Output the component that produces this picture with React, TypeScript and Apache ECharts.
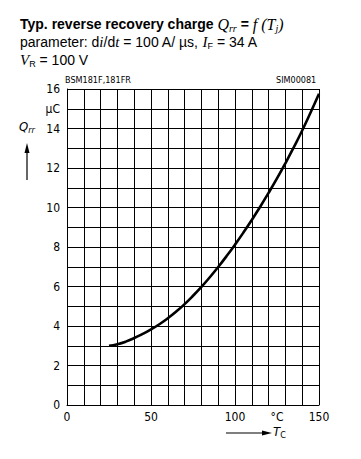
import React, { useEffect, useRef } from "react";
import * as echarts from "echarts";

const tempC = [25, 30, 35, 40, 45, 50, 55, 60, 65, 70, 75, 80, 85, 90, 95, 100, 105, 110, 115, 120, 125, 130, 135, 140, 145, 150];
const qrr = [3.0, 3.08, 3.21, 3.39, 3.6, 3.83, 4.09, 4.39, 4.73, 5.11, 5.53, 5.98, 6.47, 6.99, 7.54, 8.12, 8.73, 9.37, 10.04, 10.74, 11.47, 12.24, 13.05, 13.9, 14.81, 15.76];
const xLabels: Record<number, string> = { 0: "0", 50: "50", 100: "100", 150: "150" };
const yLabels: Record<number, string> = { 0: "0", 2: "2", 4: "4", 6: "6", 8: "8", 10: "10", 12: "12", 14: "14", 15: "µC", 16: "16" };
const xUnit = "°C";

const COND = '"DejaVu Sans Condensed", "Liberation Sans Narrow", "DejaVu Sans", sans-serif';
const SANS = '"Liberation Sans", Arial, sans-serif';
const SERIF = '"Liberation Serif", "Times New Roman", serif';

export default function App() {
  const ref = useRef<HTMLDivElement>(null);
  useEffect(() => {
    if (!ref.current) return;
    const chart = echarts.init(ref.current, undefined, { renderer: "svg" });
    const data = tempC.map((t, i) => [t, qrr[i]]);
    chart.setOption({
      animation: false,
      backgroundColor: "#fff",
      grid: { left: 67, right: 42, top: 89, bottom: 54 },
      xAxis: {
        type: "value",
        min: 0,
        max: 150,
        interval: 10,
        axisLine: { show: true, lineStyle: { color: "#000", width: 1 } },
        axisTick: { show: false },
        splitLine: { show: true, lineStyle: { color: "#000", width: 1 } },
        axisLabel: {
          color: "#000",
          fontFamily: COND,
          fontSize: 12,
          margin: 6,
          formatter: (v: number) => xLabels[v] ?? "",
          showMinLabel: true,
          showMaxLabel: true,
        },
      },
      yAxis: {
        type: "value",
        min: 0,
        max: 16,
        interval: 1,
        axisLine: { show: true, lineStyle: { color: "#000", width: 1 } },
        axisTick: { show: false },
        splitLine: { show: true, lineStyle: { color: "#000", width: 1 } },
        axisLabel: {
          color: "#000",
          fontFamily: COND,
          fontSize: 12,
          margin: 7,
          formatter: (v: number) => yLabels[v] ?? "",
        },
      },
      series: [
        {
          type: "line",
          data,
          smooth: true,
          symbol: "none",
          lineStyle: { color: "#000", width: 2.6 },
        },
      ],
      graphic: [
        {
          type: "text",
          left: 20,
          top: 16,
          style: {
            text: "{b|Typ. reverse recovery charge }{i|Q}{sub|rr}{b| = }{i|f (T}{sub|j}{i|)}",
            rich: {
              b: { fontFamily: SANS, fontWeight: "bold", fontSize: 14, fill: "#000", lineHeight: 18, verticalAlign: "middle" },
              i: { fontFamily: SERIF, fontStyle: "italic", fontSize: 16, fill: "#000", lineHeight: 18, verticalAlign: "middle" },
              sub: { fontFamily: SERIF, fontStyle: "italic", fontSize: 10, fill: "#000", lineHeight: 12, verticalAlign: "bottom" },
            },
          },
        },
        {
          type: "text",
          left: 20,
          top: 34,
          style: {
            text: "{r|parameter: d}{i|i}{r|/d}{i|t}{r| = 100 A/ µs, }{i|I}{sub|F}{r| = 34 A}",
            rich: {
              r: { fontFamily: SANS, fontSize: 14, fill: "#000", lineHeight: 18, verticalAlign: "middle" },
              i: { fontFamily: SERIF, fontStyle: "italic", fontSize: 15, fill: "#000", lineHeight: 18, verticalAlign: "middle" },
              sub: { fontFamily: SANS, fontSize: 9, fill: "#000", lineHeight: 12, verticalAlign: "bottom" },
            },
          },
        },
        {
          type: "text",
          left: 20,
          top: 52,
          style: {
            text: "{i|V}{sub|R}{r| = 100 V}",
            rich: {
              r: { fontFamily: SANS, fontSize: 14, fill: "#000", lineHeight: 18, verticalAlign: "middle" },
              i: { fontFamily: SERIF, fontStyle: "italic", fontSize: 15, fill: "#000", lineHeight: 18, verticalAlign: "middle" },
              sub: { fontFamily: SANS, fontSize: 9, fill: "#000", lineHeight: 12, verticalAlign: "bottom" },
            },
          },
        },
        {
          type: "text",
          left: 65,
          top: 75,
          style: { text: "BSM181F,181FR", fontFamily: COND, fontSize: 9, fill: "#000" },
        },
        {
          type: "text",
          left: 276,
          top: 75,
          style: { text: "SIM00081", fontFamily: COND, fontSize: 9, fill: "#000" },
        },
        {
          type: "text",
          x: 277,
          y: 417,
          style: { text: xUnit, fontFamily: COND, fontSize: 12, fill: "#000", align: "center", verticalAlign: "middle" },
        },
        {
          type: "text",
          left: 19,
          top: 120,
          style: {
            text: "{i|Q}{sub|rr}",
            rich: {
              i: { fontFamily: COND, fontStyle: "italic", fontSize: 13, fill: "#000", lineHeight: 16, verticalAlign: "middle" },
              sub: { fontFamily: COND, fontStyle: "italic", fontSize: 9, fill: "#000", lineHeight: 10, verticalAlign: "bottom" },
            },
          },
        },
        {
          type: "line",
          shape: { x1: 27, y1: 180, x2: 27, y2: 148 },
          style: { stroke: "#000", lineWidth: 1.2 },
        },
        {
          type: "polygon",
          shape: { points: [[27, 143], [24.5, 153], [29.5, 153]] },
          style: { fill: "#000" },
        },
        {
          type: "line",
          shape: { x1: 226, y1: 433, x2: 265, y2: 433 },
          style: { stroke: "#000", lineWidth: 1.2 },
        },
        {
          type: "polygon",
          shape: { points: [[272, 433], [262, 430.5], [262, 435.5]] },
          style: { fill: "#000" },
        },
        {
          type: "text",
          left: 273,
          top: 425,
          style: {
            text: "{i|T}{sub|C}",
            rich: {
              i: { fontFamily: COND, fontStyle: "italic", fontSize: 13, fill: "#000", lineHeight: 16, verticalAlign: "middle" },
              sub: { fontFamily: COND, fontSize: 9, fill: "#000", lineHeight: 10, verticalAlign: "bottom" },
            },
          },
        },
      ],
    });
    return () => chart.dispose();
  }, []);
  return <div ref={ref} style={{ position: "fixed", left: 0, top: 0, width: 361, height: 459 }} />;
}
